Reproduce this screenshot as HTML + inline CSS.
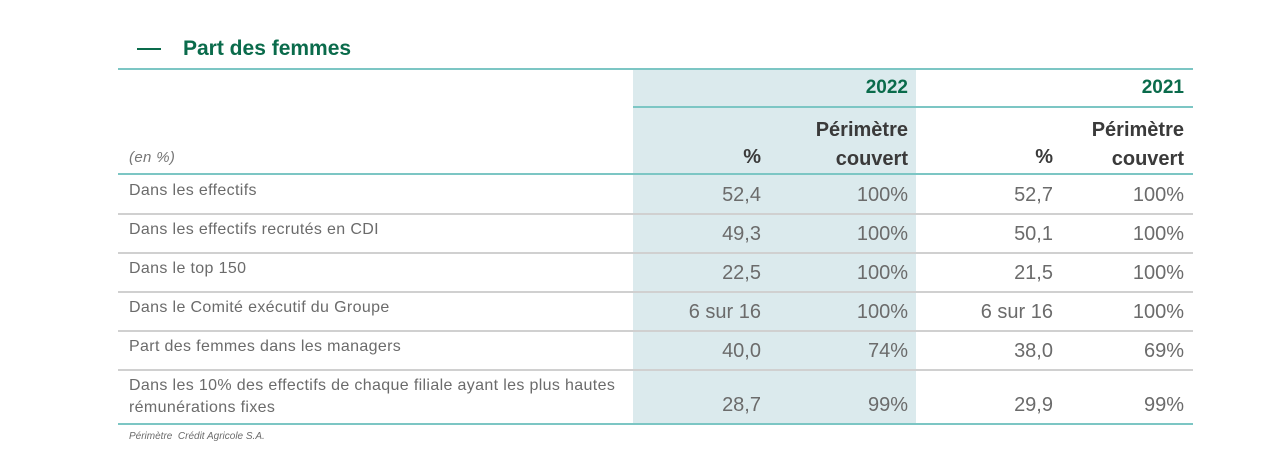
<!DOCTYPE html>
<html><head><meta charset="utf-8"><style>
body{margin:0;width:1280px;height:474px;background:#fff;position:relative;overflow:hidden;font-family:"Liberation Sans",sans-serif;}
.a{position:absolute;white-space:nowrap;}
.l{position:absolute;left:118px;width:1075px;height:2px;}
.lbl{font-size:16px;color:#6b6b6b;left:129px;letter-spacing:0.35px;}
.n{font-size:20px;color:#6b6b6b;text-align:right;}
.h{font-size:20px;font-weight:bold;color:#3a3a3a;text-align:right;}
.y{font-size:19px;font-weight:bold;color:#0a6b4b;text-align:right;}
</style></head><body>
<div class="a" style="left:137px;top:48px;width:24px;height:2px;background:#0a6b4b"></div>
<div class="a" style="left:183px;top:37px;font-size:21px;font-weight:bold;color:#0a6b4b">Part des femmes</div>
<div class="a" style="left:633px;top:69px;width:283px;height:355px;background:#dbeaed"></div>
<div class="l" style="top:68px;background:#7cc6c4"></div>
<div class="a" style="left:633px;top:106px;width:560px;height:2px;background:#7cc6c4"></div>
<div class="l" style="top:173px;background:#7cc6c4"></div>
<div class="l" style="top:213px;background:#d0d0d0"></div>
<div class="l" style="top:252px;background:#d0d0d0"></div>
<div class="l" style="top:291px;background:#d0d0d0"></div>
<div class="l" style="top:330px;background:#d0d0d0"></div>
<div class="l" style="top:369px;background:#d0d0d0"></div>
<div class="l" style="top:423px;background:#7cc6c4"></div>

<div class="a y" style="right:372px;top:77px">2022</div>
<div class="a y" style="right:96px;top:77px">2021</div>
<div class="a h" style="right:372px;top:116px;line-height:29px">Périmètre<br>couvert</div>
<div class="a h" style="right:96px;top:116px;line-height:29px">Périmètre<br>couvert</div>
<div class="a h" style="right:519px;top:146px">%</div>
<div class="a h" style="right:227px;top:146px">%</div>
<div class="a lbl" style="top:149px;font-style:italic;font-size:15px;color:#777">(en %)</div>

<div class="a lbl" style="top:182px">Dans les effectifs</div>
<div class="a lbl" style="top:221px">Dans les effectifs recrutés en CDI</div>
<div class="a lbl" style="top:260px">Dans le top 150</div>
<div class="a lbl" style="top:299px">Dans le Comité exécutif du Groupe</div>
<div class="a lbl" style="top:338px">Part des femmes dans les managers</div>
<div class="a lbl" style="top:375px;line-height:22px">Dans les 10% des effectifs de chaque filiale ayant les plus hautes<br>rémunérations fixes</div>

<div class="a n" style="right:519px;top:184px">52,4</div><div class="a n" style="right:372px;top:184px">100%</div><div class="a n" style="right:227px;top:184px">52,7</div><div class="a n" style="right:96px;top:184px">100%</div>
<div class="a n" style="right:519px;top:223px">49,3</div><div class="a n" style="right:372px;top:223px">100%</div><div class="a n" style="right:227px;top:223px">50,1</div><div class="a n" style="right:96px;top:223px">100%</div>
<div class="a n" style="right:519px;top:262px">22,5</div><div class="a n" style="right:372px;top:262px">100%</div><div class="a n" style="right:227px;top:262px">21,5</div><div class="a n" style="right:96px;top:262px">100%</div>
<div class="a n" style="right:519px;top:301px">6 sur 16</div><div class="a n" style="right:372px;top:301px">100%</div><div class="a n" style="right:227px;top:301px">6 sur 16</div><div class="a n" style="right:96px;top:301px">100%</div>
<div class="a n" style="right:519px;top:340px">40,0</div><div class="a n" style="right:372px;top:340px">74%</div><div class="a n" style="right:227px;top:340px">38,0</div><div class="a n" style="right:96px;top:340px">69%</div>
<div class="a n" style="right:519px;top:394px">28,7</div><div class="a n" style="right:372px;top:394px">99%</div><div class="a n" style="right:227px;top:394px">29,9</div><div class="a n" style="right:96px;top:394px">99%</div>

<div class="a" style="left:129px;top:431px;font-size:10px;font-style:italic;color:#6b6b6b">Périmètre&nbsp; Crédit Agricole S.A.</div>
</body></html>
